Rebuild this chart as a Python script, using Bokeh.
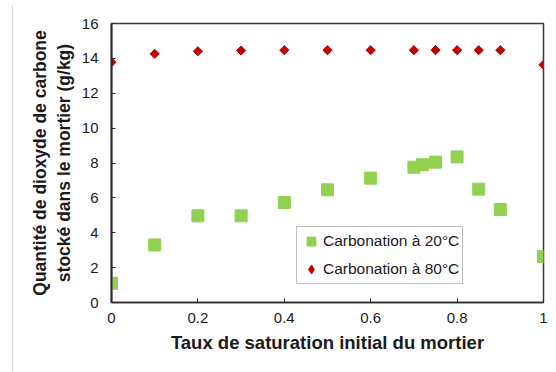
from bokeh.plotting import figure
from bokeh.models import FixedTicker, Legend, LegendItem, Range1d
from bokeh.embed import file_html
from bokeh.resources import INLINE
import math

# Initial saturation degree of the mortar
sat_20 = [0, 0.1, 0.2, 0.3, 0.4, 0.5, 0.6, 0.7, 0.72, 0.75, 0.8, 0.85, 0.9, 1.0]
co2_20 = [1.1, 3.3, 4.97, 4.97, 5.73, 6.46, 7.13, 7.76, 7.9, 8.05, 8.35, 6.5, 5.33, 2.64]

sat_80 = [0, 0.1, 0.2, 0.3, 0.4, 0.5, 0.6, 0.7, 0.75, 0.8, 0.85, 0.9, 1.0]
co2_80 = [13.78, 14.26, 14.41, 14.45, 14.47, 14.47, 14.47, 14.47, 14.47, 14.47, 14.47, 14.47, 13.63]

x_ticks = [0, 0.2, 0.4, 0.6, 0.8, 1.0]
x_tick_labels = ["0", "0.2", "0.4", "0.6", "0.8", "1"]
y_ticks = [0, 2, 4, 6, 8, 10, 12, 14, 16]

FONT = "Liberation Sans"
GREEN = "#92D050"
RED = "#C00000"

p = figure(
    width=544, height=367,
    output_backend="svg", toolbar_location=None,
    x_range=Range1d(0, 1), y_range=Range1d(0, 16),
    min_border_left=98, min_border_right=14,
    min_border_top=18, min_border_bottom=70,
    margin=(5, 0, 0, 12),
    styles={"border-left": "1px solid #d9d9d9"},
)
p.grid.visible = False
p.outline_line_color = "#3a3a3a"
p.outline_line_width = 1.5

r20 = p.scatter(sat_20, co2_20, marker="square", size=12,
                fill_color=GREEN, line_color=GREEN)
# 80 °C points: equal-sided diamonds (rotated squares)
p.scatter(sat_80, co2_80, marker="square", size=6.5, angle=math.pi / 4,
          fill_color=RED, line_color=RED)
# legend key for the 80 °C series, not drawn in the plot area itself
r80_key = p.scatter(sat_80, co2_80, marker="diamond", size=10,
                    fill_color=RED, line_color=RED, visible=False)

for ax in (p.xaxis[0], p.yaxis[0]):
    ax.axis_line_color = "#2a2a2a"
    ax.major_tick_line_color = "#2a2a2a"
    ax.major_tick_in = 4
    ax.major_tick_out = 0
    ax.minor_tick_line_color = None
    ax.major_label_text_font = FONT
    ax.major_label_text_font_size = "15px"
    ax.major_label_text_color = "#1a1a1a"
    ax.axis_label_text_font = FONT
    ax.axis_label_text_font_style = "bold"
    ax.axis_label_text_color = "#1a1a1a"

p.yaxis[0].axis_line_width = 2
p.xaxis[0].axis_line_width = 1.5

p.xaxis[0].ticker = FixedTicker(ticks=x_ticks)
p.xaxis[0].major_label_overrides = {t: s for t, s in zip(x_ticks, x_tick_labels)}
p.xaxis[0].major_label_standoff = 10
p.xaxis[0].axis_label = "Taux de saturation initial du mortier"
p.xaxis[0].axis_label_text_font_size = "18.5px"
p.xaxis[0].axis_label_standoff = 6

p.yaxis[0].ticker = FixedTicker(ticks=y_ticks)
p.yaxis[0].major_label_standoff = 13
p.yaxis[0].axis_label = "Quantité de dioxyde de carbone\nstocké dans le mortier (g/kg)"
p.yaxis[0].axis_label_text_font_size = "17.5px"
p.yaxis[0].axis_label_standoff = 5
p.yaxis[0].axis_label_text_line_height = 1.2

legend = Legend(
    items=[LegendItem(label="Carbonation à 20°C", renderers=[r20]),
           LegendItem(label="Carbonation à 80°C", renderers=[r80_key])],
    location=(185, 18), click_policy="none",
    label_text_font=FONT, label_text_font_size="15.5px", label_text_color="#1a1a1a",
    glyph_width=22, glyph_height=22, label_height=16, label_standoff=1,
    spacing=6, padding=3, margin=0,
    border_line_color="#7f7f7f", border_line_width=1,
    background_fill_color="white", background_fill_alpha=1,
)
p.add_layout(legend, "center")

open("out.html", "w").write(file_html(p, INLINE))
